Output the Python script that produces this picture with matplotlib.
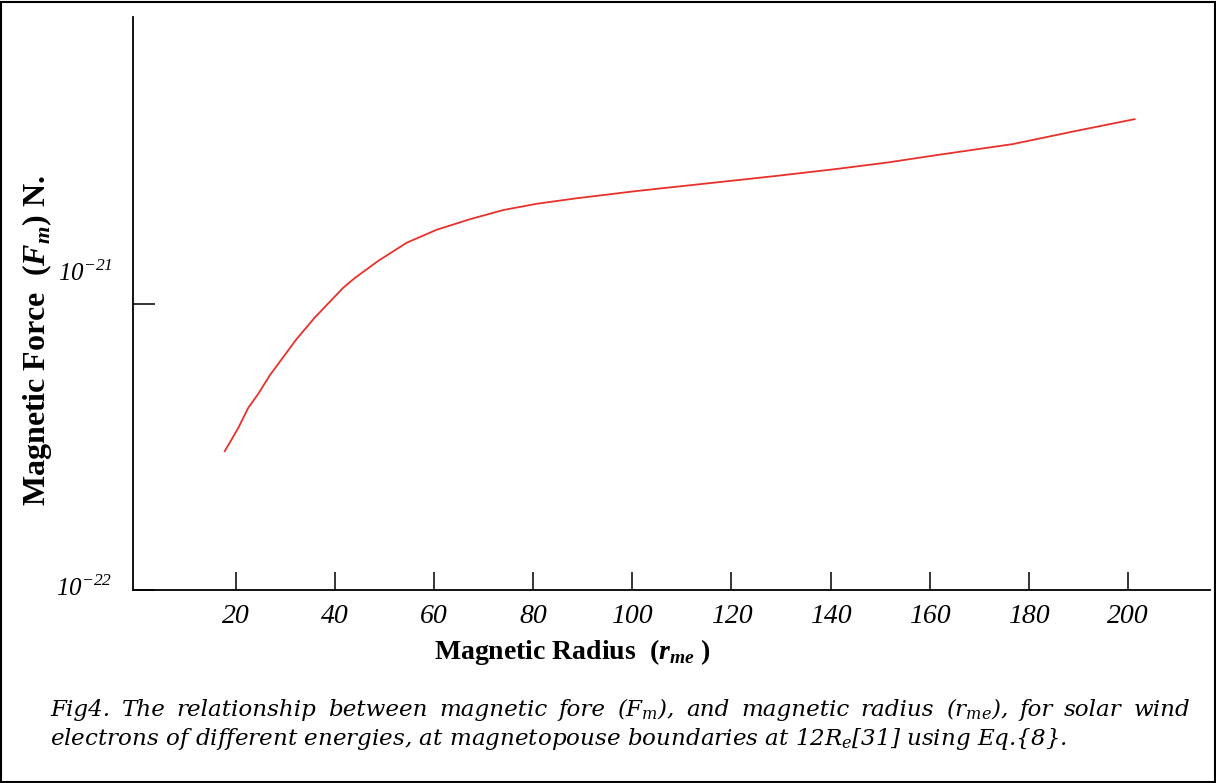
import matplotlib
matplotlib.use("Agg")
import matplotlib.pyplot as plt
import matplotlib.transforms as mtransforms
from matplotlib.patches import Rectangle

# values (log scale)
radius = [17.8, 20.5, 22.5, 24.6, 26.9, 29.6, 32.3, 36.0, 41.7, 44.1, 48.8,
          54.5, 60.6, 67.3, 74.0, 80.8, 88.8, 100.9, 116.4, 129.2, 141.3,
          151.7, 162.1, 176.7, 189.4, 201.3]
force = [3.05e-22, 3.67e-22, 4.31e-22, 4.85e-22, 5.62e-22, 6.50e-22, 7.52e-22,
         8.95e-22, 1.135e-21, 1.23e-21, 1.41e-21, 1.63e-21, 1.81e-21, 1.97e-21,
         2.12e-21, 2.23e-21, 2.33e-21, 2.47e-21, 2.64e-21, 2.79e-21, 2.95e-21,
         3.11e-21, 3.31e-21, 3.60e-21, 4.00e-21, 4.40e-21]

x_ticks = [20, 40, 60, 80, 100, 120, 140, 160, 180, 200]
y_ticks = [1e-22, 1e-21]
y_tick_labels = [r"$10^{-22}$", r"$10^{-21}$"]

caption_line1 = ("Fig4. The relationship between magnetic fore ($F_{m}$), and magnetic "
                 "radius ($r_{me}$), for solar wind")
caption_line2 = ("electrons of different energies, at magnetopouse boundaries at "
                 "12$R_{e}$[31] using Eq.{8}.")

plt.rcParams["font.family"] = ["Liberation Serif", "DejaVu Serif"]
plt.rcParams["mathtext.fontset"] = "custom"
plt.rcParams["mathtext.it"] = "DejaVu Serif:italic"
plt.rcParams["mathtext.rm"] = "Liberation Serif:italic"
plt.rcParams["mathtext.sf"] = "Liberation Serif:italic:bold"

fig = plt.figure(figsize=(12.16, 7.83), dpi=100)
ax = fig.add_axes([133 / 1216, 1 - 590 / 783, 1077 / 1216, 573 / 783])

ax.plot(radius, force, color="#e8312a", lw=1.3)

ax.set_yscale("log")
ax.set_xlim(-0.7, 216.5)
ax.set_ylim(1e-22, 1e-20)

for side in ["top", "right"]:
    ax.spines[side].set_visible(False)
for side in ["left", "bottom"]:
    ax.spines[side].set_linewidth(1.3)

ax.set_xticks(x_ticks)
ax.set_xticklabels([str(v) for v in x_ticks], fontstyle="italic")
ax.tick_params(axis="x", direction="in", length=13, width=1.1, pad=10, labelsize=20)

ax.set_yticks(y_ticks)
ax.set_yticklabels(y_tick_labels)
ax.yaxis.set_minor_locator(matplotlib.ticker.NullLocator())
ax.tick_params(axis="y", direction="in", length=16, width=1.1, pad=15, labelsize=18)

# shift the y tick labels upward like the reference
shifts = [5, 33]
for lab, dy in zip(ax.get_yticklabels(), shifts):
    off = mtransforms.ScaledTranslation(0, dy / 100, fig.dpi_scale_trans)
    lab.set_transform(lab.get_transform() + off)

ax.set_xlabel(r"Magnetic Radius  ($\mathsf{r}_{\mathsf{me}}$ )", fontsize=20, fontweight="bold")
ax.xaxis.set_label_coords(0.408, -0.082)
ax.set_ylabel(r"Magnetic Force  ($\mathsf{F}_{\mathsf{m}}$) N.", fontsize=23, fontweight="bold")
ax.yaxis.set_label_coords(-0.073, 0.436)

# caption: first line justified to the full width, second line left aligned
cap_kw = dict(fontsize=16.6, fontstyle="italic", family="DejaVu Serif",
              va="baseline", ha="left")
x_left, x_right = 50, 1190
y1, y2 = 1 - 716 / 783, 1 - 745 / 783
renderer = fig.canvas.get_renderer()
words = caption_line1.split(" ")
texts = [fig.text(0, y1, w, **cap_kw) for w in words]
widths = [t.get_window_extent(renderer).width for t in texts]
gap = (x_right - x_left - sum(widths)) / (len(words) - 1)
x = x_left
for t, w in zip(texts, widths):
    t.set_x(x / 1216)
    x += w + gap
fig.text(x_left / 1216, y2, caption_line2, **cap_kw)

fig.add_artist(Rectangle((0.001, 0.001), 0.998, 0.997, transform=fig.transFigure,
                         fill=False, edgecolor="black", lw=1.5))

fig.savefig("out.png", dpi=100)
